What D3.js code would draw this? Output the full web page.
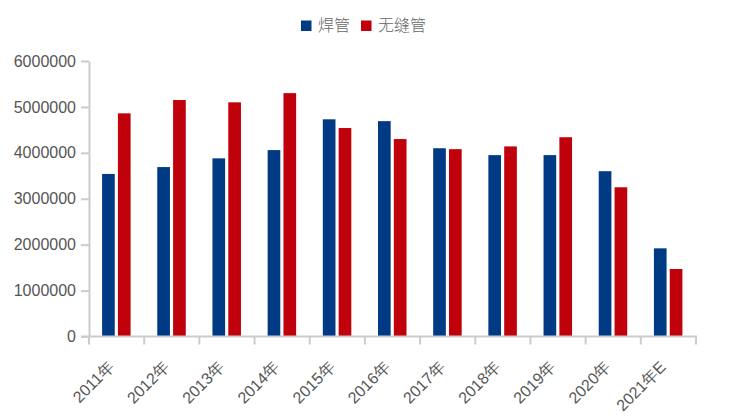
<!DOCTYPE html>
<html><head><meta charset="utf-8">
<script src="https://cdn.jsdelivr.net/npm/d3@7"></script>
<style>body{margin:0;background:#fff}svg{display:block}</style>
</head><body>
<svg id="c" width="746" height="417"></svg>
<script>
const categories = ["2011年","2012年","2013年","2014年","2015年","2016年","2017年","2018年","2019年","2020年","2021年E"];
const seriesNames = ["焊管","无缝管"];
const weldedValues = [3540000,3690000,3880000,4060000,4730000,4690000,4100000,3950000,3950000,3600000,1920000];
const seamlessValues = [4860000,5150000,5100000,5300000,4540000,4300000,4080000,4140000,4340000,3250000,1470000];
const yTicks = [0,1000000,2000000,3000000,4000000,5000000,6000000];
const colors = ["#003a84","#c0000b"];

(function(){
const svg = d3.select("#c");
const mLeft = 89, mRight = 696, mTop = 61, mBottom = 336.5;
const font = "'Liberation Sans', Arial, sans-serif";
const textColor = "#555";

const x = d3.scaleBand().domain(categories).range([mLeft, mRight]).paddingInner(0).paddingOuter(0);
const inner = d3.scaleBand().domain(seriesNames).range([0, 28.5]).paddingInner(0.2).paddingOuter(0);
const y = d3.scaleLinear().domain([0, 6000000]).range([mBottom, mTop]);

const data = categories.map((c, i) => ({cat: c, vals: [weldedValues[i], seamlessValues[i]]}));

// bars
const g = svg.append("g");
data.forEach(d => {
  const x0 = x(d.cat) + x.bandwidth() / 2 - 14.5;
  d.vals.forEach((v, j) => {
    g.append("rect")
      .attr("x", x0 + inner(seriesNames[j]))
      .attr("y", y(v))
      .attr("width", inner.bandwidth())
      .attr("height", y(0) - y(v))
      .attr("fill", colors[j]);
  });
});

// y axis
const yAxis = d3.axisLeft(y).tickValues(yTicks).tickFormat(d3.format("d")).tickSize(8).tickPadding(5).tickSizeOuter(0);
const ya = svg.append("g").attr("transform", `translate(${mLeft},0)`).call(yAxis);
ya.select(".domain").attr("stroke", "#ccc").attr("stroke-width", 2);
ya.selectAll(".tick line").attr("stroke", "#ccc").attr("stroke-width", 2);
ya.selectAll(".tick text").attr("fill", textColor).style("font-family", font).style("font-size", "16px");

// x axis
const tickPositions = categories.map(c => x(c)).concat([mRight]);
const xa = svg.append("g");
xa.append("line").attr("x1", mLeft - 8).attr("x2", mRight + 1).attr("y1", mBottom).attr("y2", mBottom)
  .attr("stroke", "#ccc").attr("stroke-width", 2);
xa.selectAll("line.t").data(tickPositions).enter().append("line").attr("class","t")
  .attr("x1", d => d).attr("x2", d => d).attr("y1", mBottom).attr("y2", mBottom + 8)
  .attr("stroke", "#ccc").attr("stroke-width", 2);
xa.selectAll("text").data(categories).enter().append("text")
  .attr("transform", d => `translate(${x(d) + x.bandwidth()/2 - 1.5},${mBottom + 31.5}) rotate(-45)`)
  .attr("text-anchor", "end")
  .attr("fill", textColor).style("font-family", font).style("font-size", "16px")
  .text(d => d);

// legend
const legendItems = [{name: seriesNames[0], x: 301}, {name: seriesNames[1], x: 361}];
const lg = svg.append("g");
legendItems.forEach((it, i) => {
  lg.append("rect").attr("x", it.x).attr("y", 20.5).attr("width", 10.5).attr("height", 10.5).attr("fill", colors[i]);
  lg.append("text").attr("x", it.x + 17).attr("y", 31).attr("fill", "#666")
    .style("font-family", "'Noto Sans CJK SC', sans-serif").style("font-size", "16px").style("font-weight", 300)
    .text(it.name);
});
})();
</script>
</body></html>
